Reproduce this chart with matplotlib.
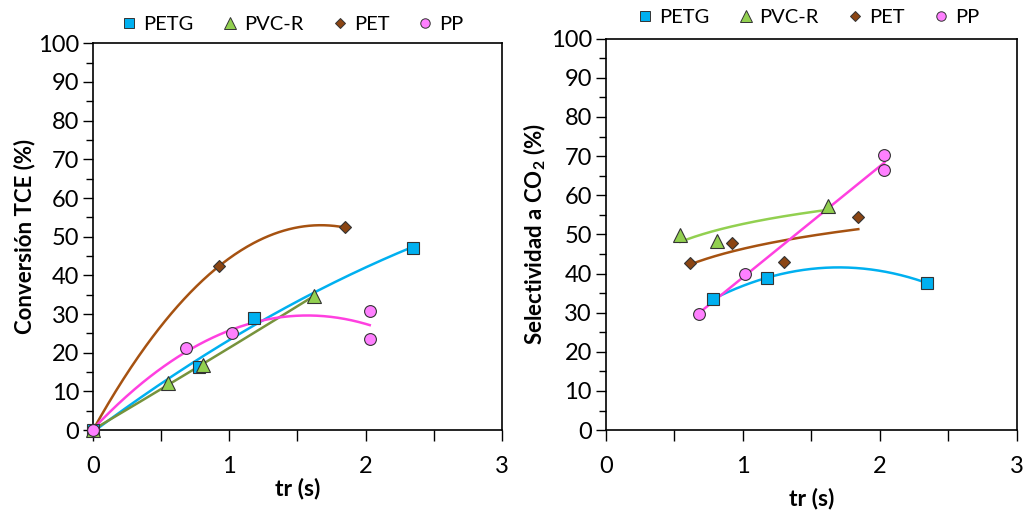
import numpy as np
from matplotlib import pyplot as plt
from matplotlib.lines import Line2D

plt.rcParams['font.family'] = ['Lato', 'DejaVu Sans']
plt.rcParams['mathtext.fontset'] = 'custom'
plt.rcParams['mathtext.rm'] = 'Lato'
plt.rcParams['mathtext.bf'] = 'Lato:bold'

"""Data: conversion of TCE"""
conv_petg_x = [0, 0.78, 1.18, 2.35]
conv_petg_y = [0, 16.4, 28.9, 47.2]
conv_pvc_x = [0, 0.55, 0.81, 1.62]
conv_pvc_y = [0, 12.1, 16.8, 34.7]
conv_pet_x = [0, 0.925, 1.845]
conv_pet_y = [0, 42.4, 52.4]
conv_pp_x = [0, 0.68, 1.02, 2.03, 2.03]
conv_pp_y = [0, 21.3, 25.0, 30.9, 23.5]

"""Data: selectivity to CO2"""
sel_petg_x = [0.786, 1.175, 2.343]
sel_petg_y = [33.5, 38.9, 37.6]
sel_pvc_x = [0.545, 0.815, 1.625]
sel_pvc_y = [49.8, 48.4, 57.3]
sel_pet_x = [0.618, 0.922, 1.304, 1.844]
sel_pet_y = [42.8, 47.7, 42.9, 54.4]
sel_pp_x = [0.681, 1.019, 2.034, 2.034]
sel_pp_y = [29.7, 39.8, 70.2, 66.4]

names = ['PETG', 'PVC-R', 'PET', 'PP']
fills = ['#00B0F0', '#92D050', '#8B4513', '#FF80FF']
marks = ['s', '^', 'D', 'o']
msizes = [8.5, 10, 6.5, 8.5]


def trend(ax, x, y, color, kind='poly2'):
    x = np.asarray(x, float)
    y = np.asarray(y, float)
    xs = np.linspace(x.min(), x.max(), 200)
    if kind == 'poly2':
        ys = np.polyval(np.polyfit(x, y, 2), xs)
    elif kind == 'lin':
        ys = np.polyval(np.polyfit(x, y, 1), xs)
    else:
        ys = np.polyval(np.polyfit(np.log(x), y, 1), np.log(xs))
    ax.plot(xs, ys, color=color, lw=1.8, zorder=2)


def style(ax, ylabel, xpad):
    ax.set_xlim(0, 3)
    ax.set_ylim(0, 100)
    ax.set_xticks([0, 1, 2, 3])
    ax.set_xticks([0.5, 1.5, 2.5], minor=True)
    ax.set_yticks(range(0, 101, 10))
    ax.set_yticks(range(5, 100, 10), minor=True)
    ax.tick_params(which='both', direction='out', labelsize=17, width=1)
    ax.tick_params(axis='x', which='both', length=8, pad=11)
    ax.tick_params(axis='y', which='major', length=7, pad=3)
    ax.tick_params(axis='y', which='minor', length=5)
    for s in ax.spines.values():
        s.set_linewidth(1.2)
    ax.set_xlabel('tr (s)', fontsize=16.5, fontweight='bold', labelpad=xpad)
    ax.set_ylabel(ylabel, fontsize=16, fontweight='bold', labelpad=2)


fig = plt.figure(figsize=(10.23, 5.12), dpi=100)
ax0 = fig.add_axes([0.0909, 0.160, 0.3998, 0.7554])
ax1 = fig.add_axes([0.5921, 0.160, 0.4017, 0.7644])

"""Left: conversion"""
trend(ax0, conv_petg_x, conv_petg_y, '#00B0F0')
trend(ax0, conv_pvc_x, conv_pvc_y, '#77933C')
trend(ax0, conv_pet_x, conv_pet_y, '#A65211')
trend(ax0, conv_pp_x, conv_pp_y, '#FF40E0')
conv = [(conv_petg_x, conv_petg_y), (conv_pvc_x, conv_pvc_y),
        (conv_pet_x, conv_pet_y), (conv_pp_x, conv_pp_y)]
for (x, y), f, m, ms in zip(conv, fills, marks, msizes):
    ax0.plot(x, y, ls='none', marker=m, ms=ms, mfc=f, mec='#333333',
             mew=0.8, zorder=3, clip_on=False)
style(ax0, 'Conversión TCE (%)', 0)

"""Right: selectivity"""
trend(ax1, sel_petg_x, sel_petg_y, '#00B0F0')
trend(ax1, sel_pvc_x, sel_pvc_y, '#92D050', 'log')
trend(ax1, sel_pet_x, sel_pet_y, '#A65211', 'log')
trend(ax1, sel_pp_x, sel_pp_y, '#FF40E0', 'lin')
sel = [(sel_petg_x, sel_petg_y), (sel_pvc_x, sel_pvc_y),
       (sel_pet_x, sel_pet_y), (sel_pp_x, sel_pp_y)]
for (x, y), f, m, ms in zip(sel, fills, marks, msizes):
    ax1.plot(x, y, ls='none', marker=m, ms=ms, mfc=f, mec='#333333',
             mew=0.8, zorder=3)
style(ax1, r'Selectividad a CO$_\mathbf{2}$ (%)', 7)

"""Legends"""
handles = [Line2D([], [], ls='none', marker=m, ms=ms * 0.8, mfc=f,
                  mec='#333333', mew=0.7)
           for f, m, ms in zip(fills, marks, msizes)]
for cx, cy in [(0.285, 0.953), (0.789, 0.966)]:
    fig.legend(handles, names, loc='center', bbox_to_anchor=(cx, cy),
               ncol=4, frameon=False, fontsize=14.5, handletextpad=0.2,
               columnspacing=1.3, handlelength=1.0, borderaxespad=0)

fig.savefig('out.png', dpi=100)
